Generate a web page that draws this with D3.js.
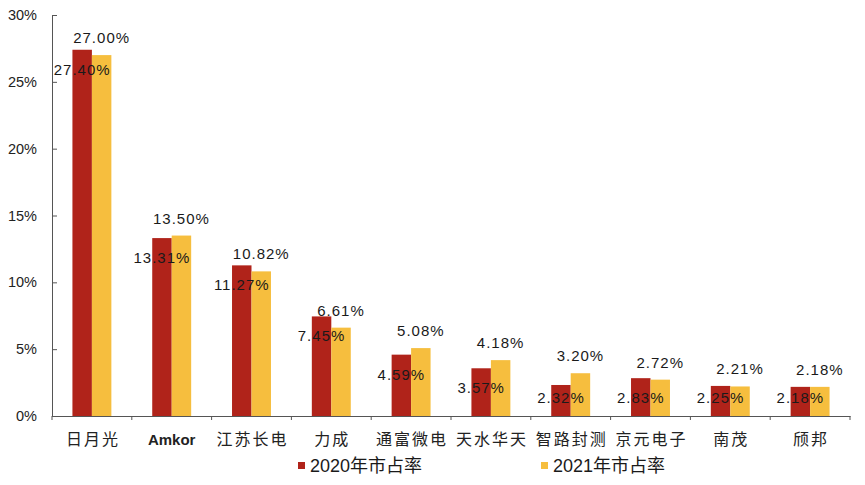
<!DOCTYPE html>
<html><head><meta charset="utf-8">
<script src="https://cdn.jsdelivr.net/npm/d3@7"></script>
<style>
body{margin:0;background:#fff;}
svg{display:block;}
</style></head>
<body><svg id="chart" width="865" height="485"></svg>
<script>
const categories = ["日月光","Amkor","江苏长电","力成","通富微电","天水华天","智路封测","京元电子","南茂","颀邦"];
const share2020 = [27.40,13.31,11.27,7.45,4.59,3.57,2.32,2.83,2.25,2.18];
const share2021 = [27.00,13.50,10.82,6.61,5.08,4.18,3.20,2.72,2.21,2.18];
const yTicks = [0,5,10,15,20,25,30];
const seriesNames = ["2020年市占率","2021年市占率"];
const seriesColors = ["#B0231A","#F6BE3E"];

const svg = d3.select("#chart");
const x0 = 52, x1 = 850, yTop = 15, yBot = 416;

const x = d3.scaleBand().domain(categories).range([x0,x1]).paddingInner(0).paddingOuter(0);
const bw = x.bandwidth();
const xs = d3.scaleBand().domain(seriesNames).range([bw*0.256, bw*0.744]).padding(0);
const y = d3.scaleLinear().domain([0,30]).range([yBot,yTop]);
const color = d3.scaleOrdinal().domain(seriesNames).range(seriesColors);

const rows = categories.map((c,i)=>({cat:c, vals:[share2020[i], share2021[i]]}));

// bars
const g = svg.append("g");
const grp = g.selectAll("g.cat").data(rows).join("g").attr("transform", d=>`translate(${x(d.cat)},0)`);
grp.selectAll("rect").data(d=>d.vals.map((v,j)=>({s:seriesNames[j], v})))
  .join("rect")
  .attr("x", d=>xs(d.s)).attr("width", xs.bandwidth())
  .attr("y", d=>y(d.v)).attr("height", d=>y(0)-y(d.v))
  .attr("fill", d=>color(d.s));

// Y axis
const yAxis = d3.axisLeft(y).tickValues(yTicks).tickFormat(d=>d+"%").tickSize(-5).tickSizeOuter(0).tickPadding(15);
const ya = svg.append("g").attr("transform",`translate(${x0},0)`).call(yAxis);
ya.select(".domain").attr("stroke","#555");
ya.selectAll(".tick line").attr("stroke","#555");
ya.selectAll(".tick text").attr("font-family","Liberation Sans, Arial, sans-serif").attr("font-size",14.5).attr("fill","#222");

// X axis
const xAxis = d3.axisBottom(x).tickSize(0).tickSizeOuter(0).tickPadding(0);
const xa = svg.append("g").attr("transform",`translate(0,${yBot})`).call(xAxis);
xa.select(".domain").attr("stroke","#555");
xa.selectAll(".tick text")
  .attr("dy",0).attr("y",29)
  .attr("font-family", d=> d==="Amkor" ? "Liberation Sans, Arial, sans-serif" : "Noto Sans CJK SC, sans-serif")
  .attr("font-weight", d=> d==="Amkor" ? "bold" : "normal")
  .attr("font-size", d=> d==="Amkor" ? 15 : 16)
  .attr("letter-spacing", d=> d==="Amkor" ? 0 : 2)
  .attr("dx", d=> d==="Amkor" ? 0 : 1)
  .attr("fill","#222");
// boundary ticks
const bounds = categories.map(c=>x(c)).concat([x1]);
xa.selectAll("line.bt").data(bounds).join("line").attr("class","bt")
  .attr("x1",d=>d).attr("x2",d=>d).attr("y1",0).attr("y2",4).attr("stroke","#555");

// value labels
const fmt = d3.format(".2f");
const lab = svg.append("g").attr("font-family","Liberation Sans, Arial, sans-serif").attr("font-size",15).attr("fill","#1a1a1a").attr("text-anchor","middle").attr("letter-spacing",1);
rows.forEach(r=>{
  const cx2020 = x(r.cat)+xs(seriesNames[0])+xs.bandwidth()/2;
  const cx2021 = x(r.cat)+xs(seriesNames[1])+xs.bandwidth()/2;
  lab.append("text").attr("x",cx2020).attr("y", Math.min(y(r.vals[0])+25, y(0)-13)).text(fmt(r.vals[0])+"%");
  lab.append("text").attr("x",cx2021).attr("y", y(r.vals[1])-12).text(fmt(r.vals[1])+"%");
});

// legend
const legX = [298, 541];
const leg = svg.append("g");
seriesNames.forEach((s,i)=>{
  leg.append("rect").attr("x",legX[i]).attr("y",462).attr("width",7).attr("height",7).attr("fill",color(s));
  leg.append("text").attr("x",legX[i]+12).attr("y",472).attr("font-family","Liberation Sans, Noto Sans CJK SC, sans-serif")
    .attr("font-size",18).attr("fill","#1a1a1a").text(s);
});
</script></body></html>
